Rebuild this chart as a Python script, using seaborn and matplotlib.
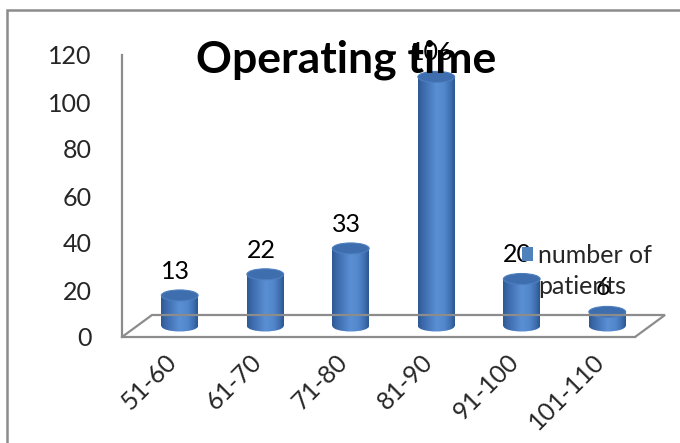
import matplotlib
matplotlib.use("Agg")
import matplotlib.pyplot as plt
import matplotlib.patches as mpatches
from matplotlib.colors import LinearSegmentedColormap
from matplotlib.legend_handler import HandlerPatch
from matplotlib.lines import Line2D
from matplotlib.transforms import ScaledTranslation
import numpy as np
import pandas as pd
import seaborn as sns

# ---- data ----
categories = ["51-60", "61-70", "71-80", "81-90", "91-100", "101-110"]
patients = [13, 22, 33, 106, 20, 6]
y_ticks = [0, 20, 40, 60, 80, 100, 120]
title = "Operating time"
series_name = "number of\npatients"

# ---- figure geometry (pixels) ----
W, H, DPI = 680, 443, 100
L, T, R, B = 122, 55, 635, 337      # front value axis frame
DX, DY = 15, 11                      # half of the floor depth offset
YMAX = 120
PPU = (B - T) / YMAX                 # pixels per unit
LOW = 8                              # extra room below zero for cylinder bases

sns.set_theme(style="white")
plt.rcParams["font.family"] = ["Lato", "DejaVu Sans"]

GRAY = "#8c8c8c"
FS = 18
FS_LEG = 18

fig = plt.figure(figsize=(W / DPI, H / DPI), dpi=DPI)
fig.patch.set_facecolor("white")


def px_box(l, t, r, b):
    return [l / W, (H - b) / H, (r - l) / W, (b - t) / H]


# outer chart border
fig.patches.append(mpatches.Rectangle((7 / W, -0.05), 1.2, 1 - 10 / H + 0.05,
                                      transform=fig.transFigure, fill=False,
                                      edgecolor=GRAY, linewidth=1.8))

# front axes: ticks and labels
ax = fig.add_axes(px_box(L, T, R, B))
ax.set_facecolor("none")
ax.set_xlim(-0.5, len(categories) - 0.5)
ax.set_ylim(0, YMAX)
ax.set_yticks(y_ticks)
ax.set_yticklabels([str(v) for v in y_ticks], fontsize=FS)
ax.set_xticks(range(len(categories)))
ax.set_xticklabels(categories, fontsize=FS, rotation=45, ha="right",
                   va="center", rotation_mode="anchor")
ax.set_xticks(np.arange(-0.5, len(categories)), minor=True)
ax.tick_params(axis="x", which="major", length=0, pad=15)
ax.tick_params(axis="x", which="minor", length=9, color=GRAY, width=1.6,
               direction="out")
ax.tick_params(axis="y", length=9, color=GRAY, width=1.6, direction="out",
               pad=13)
shift = ScaledTranslation(8 / DPI, 0, fig.dpi_scale_trans)
for lab in ax.get_xticklabels():
    lab.set_transform(lab.get_transform() + shift)
for side in ("top", "right"):
    ax.spines[side].set_visible(False)
for side in ("left", "bottom"):
    ax.spines[side].set_color(GRAY)
    ax.spines[side].set_linewidth(1.6)
ax.grid(False)


# floor of the 3-D plot
def fpx(x, y):
    return (x / W, (H - y) / H)


floor = [fpx(L, B), fpx(L + 2 * DX, B - 2 * DY), fpx(R + 2 * DX, B - 2 * DY),
         fpx(R, B)]
fx, fy = zip(*floor)
fig.lines.append(Line2D(fx, fy, transform=fig.transFigure, color=GRAY,
                        linewidth=1.6, solid_joinstyle="miter"))

# bar axes, set half-way into the floor depth
ax2 = fig.add_axes(px_box(L + DX, T - DY, R + DX, B - DY + LOW * PPU))
ax2.set_facecolor("none")
df = pd.DataFrame({"range": categories, "patients": patients})
BW = 0.43
sns.barplot(data=df, x="range", y="patients", ax=ax2, width=BW,
            color="#4f81bd", saturation=1, errorbar=None)

body_cmap = LinearSegmentedColormap.from_list(
    "cyl", [(0.0, "#2d5892"), (0.12, "#3a68a9"), (0.5, "#5a8fd3"),
            (0.72, "#5287cc"), (0.9, "#3d6cad"), (1.0, "#2b5690")])
grad = np.linspace(0, 1, 256)[None, :]
EH = 11 / PPU   # ellipse height in data units

for bar in list(ax2.patches):
    x0, w, h = bar.get_x(), bar.get_width(), bar.get_height()
    xc = x0 + w / 2
    bar.set_facecolor("none")
    bar.set_edgecolor("none")
    im = ax2.imshow(grad, extent=(x0, x0 + w, 0, h), aspect="auto",
                    cmap=body_cmap, zorder=2)
    im.set_clip_path(bar)
    base = mpatches.Ellipse((xc, 0), w, EH, facecolor="none",
                            edgecolor="none")
    ax2.add_patch(base)
    im2 = ax2.imshow(grad, extent=(x0, x0 + w, -EH / 2, EH / 2),
                     aspect="auto", cmap=body_cmap, zorder=2)
    im2.set_clip_path(base)
    top = mpatches.Ellipse((xc, h), w, EH, facecolor="#3f6eae",
                           edgecolor="#4d7fc0", linewidth=0.8, zorder=3)
    ax2.add_patch(top)

for i, v in enumerate(patients):
    ax2.annotate(str(v), (i, v), xytext=(-4, 24), textcoords="offset pixels",
                 ha="center", va="center", fontsize=FS, color="black",
                 zorder=4)

ax2.set_xlim(-0.5, len(categories) - 0.5)
ax2.set_ylim(-LOW, YMAX)
ax2.axis("off")

# title
fig.text(346 / W, 1 - 60 / H, title, ha="center", va="center",
         fontsize=32, fontweight="bold", color="black")


# legend with the key square level with the first text line
def square_first_line(legend, orig_handle, xdescent, ydescent, width,
                      height, fontsize):
    s_w, s_h = 8.0, 10.0
    return mpatches.Rectangle((-xdescent + width - s_w,
                               -ydescent + height / 2 + 7.5), s_w, s_h)


leg_patch = mpatches.Patch(facecolor="#4f81bd", edgecolor="none",
                           label=series_name)
leg = fig.legend(handles=[leg_patch], loc="upper left",
                 bbox_to_anchor=(518 / W, 1 - 244 / H), frameon=False,
                 fontsize=FS_LEG, handlelength=0.6, handleheight=1.0,
                 handletextpad=0.22, borderpad=0, borderaxespad=0,
                 labelspacing=0,
                 handler_map={mpatches.Patch:
                              HandlerPatch(patch_func=square_first_line)})
for t in leg.get_texts():
    t.set_linespacing(1.4)

fig.savefig("out.png", dpi=DPI, facecolor="white")
